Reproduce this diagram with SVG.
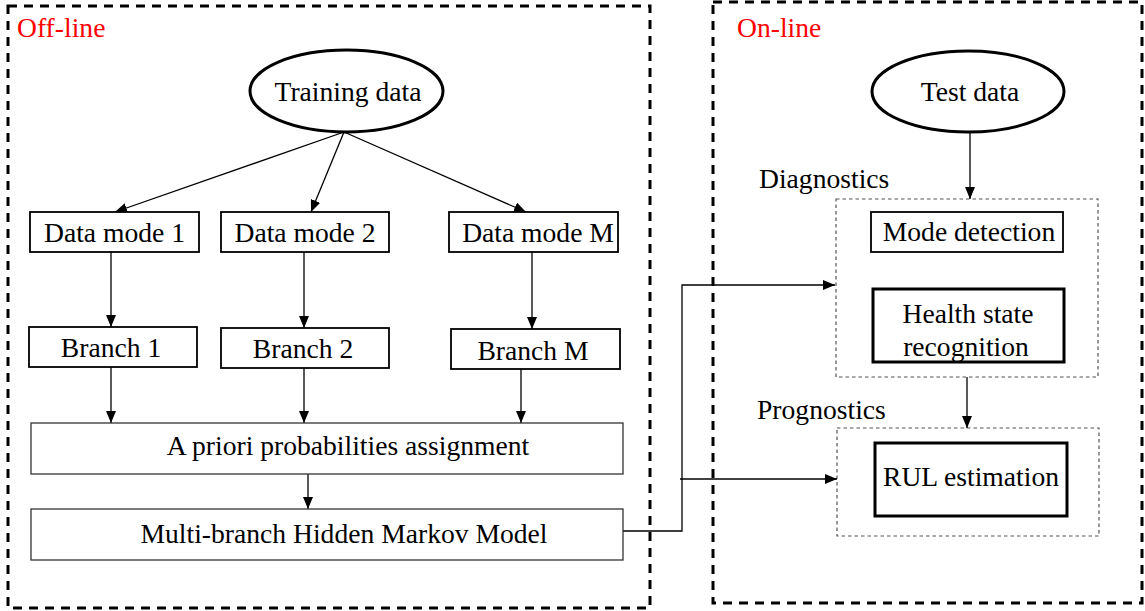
<svg xmlns="http://www.w3.org/2000/svg" width="1145" height="611" viewBox="0 0 1145 611">
<style>
text{font-family:"Liberation Serif","Times New Roman",serif;font-size:27.6px;fill:#000}
.lbl{fill:#ff0000}
.frame{fill:none;stroke:#000;stroke-width:3;stroke-dasharray:9 7}
.sub{fill:none;stroke:#555;stroke-width:1.2;stroke-dasharray:3.5 3}
.box{fill:#fff;stroke:#000;stroke-width:1.8}
.wide{fill:#fff;stroke:#333;stroke-width:1.3}
.thick{fill:#fff;stroke:#000;stroke-width:3}
.ell{fill:#fff;stroke:#000;stroke-width:3}
.c{fill:none;stroke:#000;stroke-width:1.3}
</style>
<defs>
<marker id="ah" viewBox="0 0 12 10" refX="12" refY="5" markerWidth="12" markerHeight="10" markerUnits="userSpaceOnUse" orient="auto">
<path d="M0,0 L12,5 L0,10 z" fill="#000"/>
</marker>
</defs>
<g id="offline">
<rect class="frame" x="8" y="6" width="642" height="602"/>
<text class="lbl" x="17" y="37">Off-line</text>
</g>
<g id="online">
<rect class="frame" x="713" y="2" width="429" height="601"/>
<text class="lbl" x="737" y="37">On-line</text>
</g>
<g id="diagnostics">
<rect class="sub" x="836" y="199" width="262" height="178"/>
<text x="759" y="188">Diagnostics</text>
</g>
<g id="prognostics">
<rect class="sub" x="837" y="428" width="262" height="108"/>
<text x="757" y="419">Prognostics</text>
</g>
<g id="connectors">
<line class="c" x1="344" y1="132" x2="115" y2="212" marker-end="url(#ah)"/>
<line class="c" x1="344" y1="132" x2="311" y2="212" marker-end="url(#ah)"/>
<line class="c" x1="344" y1="132" x2="526" y2="212" marker-end="url(#ah)"/>
<line class="c" x1="111" y1="252" x2="111" y2="327" marker-end="url(#ah)"/>
<line class="c" x1="304" y1="252" x2="304" y2="328" marker-end="url(#ah)"/>
<line class="c" x1="532" y1="252" x2="532" y2="329" marker-end="url(#ah)"/>
<line class="c" x1="111" y1="367" x2="111" y2="423" marker-end="url(#ah)"/>
<line class="c" x1="304" y1="368" x2="304" y2="423" marker-end="url(#ah)"/>
<line class="c" x1="521" y1="369" x2="521" y2="423" marker-end="url(#ah)"/>
<line class="c" x1="308" y1="474" x2="308" y2="509" marker-end="url(#ah)"/>
<polyline class="c" points="623,531 682,531 682,285 835,285" marker-end="url(#ah)"/>
<line class="c" x1="680" y1="479" x2="837" y2="479" marker-end="url(#ah)"/>
<line class="c" x1="970" y1="132" x2="970" y2="199" marker-end="url(#ah)"/>
<line class="c" x1="967" y1="377" x2="967" y2="428" marker-end="url(#ah)"/>
</g>
<g id="training-data">
<ellipse class="ell" cx="346.5" cy="91" rx="96.5" ry="41"/>
<text x="348" y="101" text-anchor="middle">Training data</text>
</g>
<g id="data-mode-1">
<rect class="box" x="30" y="212" width="169" height="40"/>
<text x="114.5" y="242" text-anchor="middle">Data mode 1</text>
</g>
<g id="data-mode-2">
<rect class="box" x="221" y="212" width="168" height="40"/>
<text x="305" y="242" text-anchor="middle">Data mode 2</text>
</g>
<g id="data-mode-M">
<rect class="box" x="449" y="212" width="169" height="40"/>
<text x="538" y="242" text-anchor="middle">Data mode M</text>
</g>
<g id="branch-1">
<rect class="box" x="29" y="327" width="168" height="40"/>
<text x="111" y="357" text-anchor="middle">Branch 1</text>
</g>
<g id="branch-2">
<rect class="box" x="221" y="328" width="168" height="40"/>
<text x="303" y="358" text-anchor="middle">Branch 2</text>
</g>
<g id="branch-M">
<rect class="box" x="451" y="329" width="169" height="40"/>
<text x="533" y="360" text-anchor="middle">Branch M</text>
</g>
<g id="apriori">
<rect class="wide" x="31" y="423" width="592" height="51"/>
<text x="348" y="455" text-anchor="middle">A priori probabilities assignment</text>
</g>
<g id="mbhmm">
<rect class="wide" x="31" y="509" width="592" height="51"/>
<text x="344" y="543" text-anchor="middle">Multi-branch Hidden Markov Model</text>
</g>
<g id="test-data">
<ellipse class="ell" cx="968" cy="91.5" rx="96" ry="40.5"/>
<text x="970" y="101" text-anchor="middle">Test data</text>
</g>
<g id="mode-detection">
<rect class="box" x="871" y="212" width="192" height="40"/>
<text x="969" y="241" text-anchor="middle">Mode detection</text>
</g>
<g id="health-state">
<rect class="thick" x="873" y="289" width="191" height="73"/>
<text x="968" y="323" text-anchor="middle">Health state</text>
<text x="966" y="356" text-anchor="middle">recognition</text>
</g>
<g id="rul">
<rect class="thick" x="875" y="443" width="192" height="73"/>
<text x="971" y="486" text-anchor="middle">RUL estimation</text>
</g>
</svg>
